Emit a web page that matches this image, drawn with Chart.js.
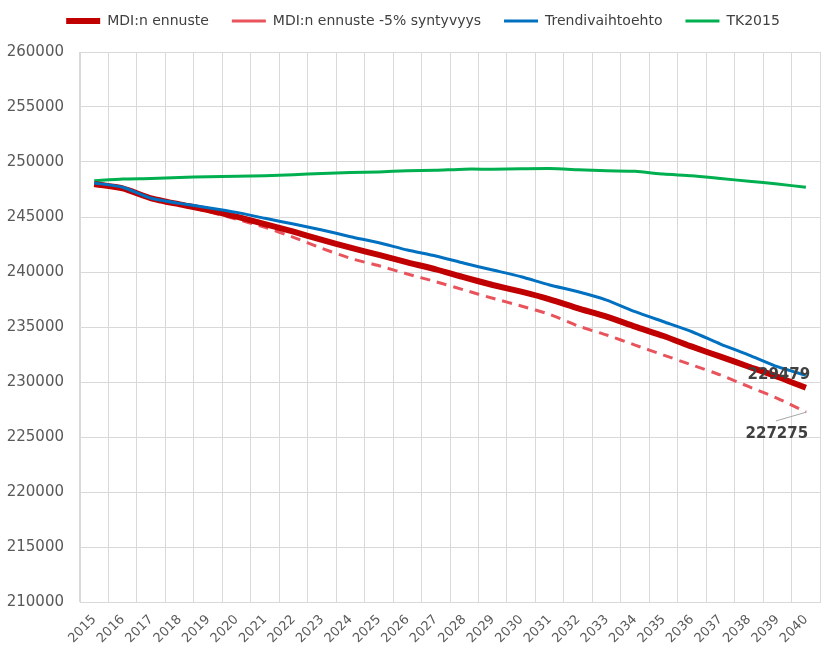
<!DOCTYPE html>
<html>
<head>
<meta charset="utf-8">
<script src="https://cdn.jsdelivr.net/npm/chart.js@4/dist/chart.umd.min.js"></script>
<style>
  html, body { margin: 0; padding: 0; background: #fff; }
  #wrap { width: 827px; height: 650px; }
</style>
</head>
<body>
<div id="wrap"><canvas id="popChart"></canvas></div>
<script>
const years = ["2015","2016","2017","2018","2019","2020","2021","2022","2023","2024","2025","2026","2027",
  "2028","2029","2030","2031","2032","2033","2034","2035","2036","2037","2038","2039","2040"];

const mdiForecast = [248000, 247600, 246700, 246150, 245640, 245030, 244360, 243670, 242910, 242210,
  241550, 240880, 240240, 239510, 238820, 238210, 237520, 236700, 235940, 235030,
  234180, 233210, 232300, 231390, 230480, 229479];

const mdiLowBirths = [248000, 247600, 246700, 246100, 245500, 244790, 244060, 243150, 242150, 241240,
  240570, 239820, 239120, 238360, 237610, 236910, 236150, 235090, 234270, 233360,
  232450, 231550, 230640, 229570, 228520, 227275];

const trendOption = [248100, 247700, 246700, 246240, 245850, 245420, 244880, 244360, 243820, 243210,
  242660, 242000, 241450, 240790, 240180, 239570, 238820, 238210, 237450, 236390,
  235480, 234570, 233450, 232450, 231390, 230600];

const tk2015 = [248300, 248450, 248500, 248600, 248650, 248700, 248750, 248850, 248950, 249050,
  249100, 249200, 249250, 249350, 249350, 249380, 249400, 249300, 249200, 249150,
  248900, 248750, 248500, 248250, 248000, 247700];

const yMin = 210000, yMax = 260000, yStep = 5000;

// room under the legend, and nudge it a bit right like the original
const legendSpace = {
  id: "legendSpace",
  beforeInit(chart) {
    const fit = chart.legend.fit;
    chart.legend.fit = function () {
      fit.bind(chart.legend)();
      this.height += 14;
    };
  },
  afterLayout(chart) {
    chart.legend.left += 12;
    chart.legend.right += 12;
  }
};

// value labels at the end of the two MDI series
const endLabels = {
  id: "endLabels",
  afterDatasetsDraw(chart) {
    const ctx = chart.ctx;
    const solid = chart.getDatasetMeta(0).data;
    const dashed = chart.getDatasetMeta(1).data;
    const p1 = solid[solid.length - 1];
    const p2 = dashed[dashed.length - 1];
    ctx.save();
    ctx.font = "bold 15px 'DejaVu Sans'";
    ctx.fillStyle = "#404040";
    ctx.textAlign = "center";
    ctx.textBaseline = "middle";
    ctx.fillText(String(mdiForecast[mdiForecast.length - 1]), p1.x - 27, p1.y - 13);

    ctx.strokeStyle = "#A6A6A6";
    ctx.lineWidth = 1;
    ctx.beginPath();
    ctx.moveTo(p2.x - 30, p2.y + 9);
    ctx.lineTo(p2.x + 1, p2.y);
    ctx.stroke();
    ctx.fillText(String(mdiLowBirths[mdiLowBirths.length - 1]), p2.x - 29, p2.y + 22);
    ctx.restore();
  }
};

const ctx = document.getElementById("popChart").getContext("2d");

const popChart = new Chart(ctx, {
  type: "line",
  data: {
    labels: years,
    datasets: [{
      label: "MDI:n ennuste",
      data: mdiForecast,
      borderColor: "#C00000",
      backgroundColor: "#C00000",
      borderWidth: 6,
      order: 1
    }, {
      label: "MDI:n ennuste -5% syntyvyys",
      data: mdiLowBirths,
      borderColor: "#E8535C",
      backgroundColor: "#E8535C",
      borderWidth: 3,
      borderDash: [10, 7],
      order: 2
    }, {
      label: "Trendivaihtoehto",
      data: trendOption,
      borderColor: "#0070C0",
      backgroundColor: "#0070C0",
      borderWidth: 3,
      order: 0
    }, {
      label: "TK2015",
      data: tk2015,
      borderColor: "#00B050",
      backgroundColor: "#00B050",
      borderWidth: 3,
      order: 3
    }]
  },
  options: {
    responsive: true,
    maintainAspectRatio: false,
    animation: false,
    layout: { padding: { left: 0, right: 5, top: -9, bottom: 0 } },
    elements: {
      point: { radius: 0, hoverRadius: 0 },
      line: { tension: 0.2, borderCapStyle: "butt" }
    },
    plugins: {
      tooltip: { enabled: false },
      legend: {
        position: "top",
        labels: {
          font: { family: "'DejaVu Sans'", size: 14 },
          color: "#404040",
          usePointStyle: true,
          pointStyle: "line",
          pointStyleWidth: 34,
          padding: 23,
          sort: (a, b) => a.datasetIndex - b.datasetIndex
        }
      }
    },
    scales: {
      x: {
        offset: true,
        grid: { offset: true, color: "#D9D9D9", drawTicks: false },
        border: { color: "#D9D9D9" },
        ticks: {
          font: { family: "'DejaVu Sans'", size: 13 },
          color: "#595959",
          minRotation: 45,
          maxRotation: 45,
          autoSkip: false,
          padding: 10
        },
        afterFit(scale) { scale.height = 48; }
      },
      y: {
        min: yMin,
        max: yMax,
        grid: { color: "#D9D9D9", drawTicks: false },
        border: { color: "#D9D9D9" },
        ticks: {
          stepSize: yStep,
          font: { family: "'DejaVu Sans'", size: 15 },
          color: "#595959",
          padding: 16,
          callback: (v) => String(v)
        },
        afterFit(scale) { scale.width = 80; }
      }
    }
  },
  plugins: [legendSpace, endLabels]
});
</script>
</body>
</html>
